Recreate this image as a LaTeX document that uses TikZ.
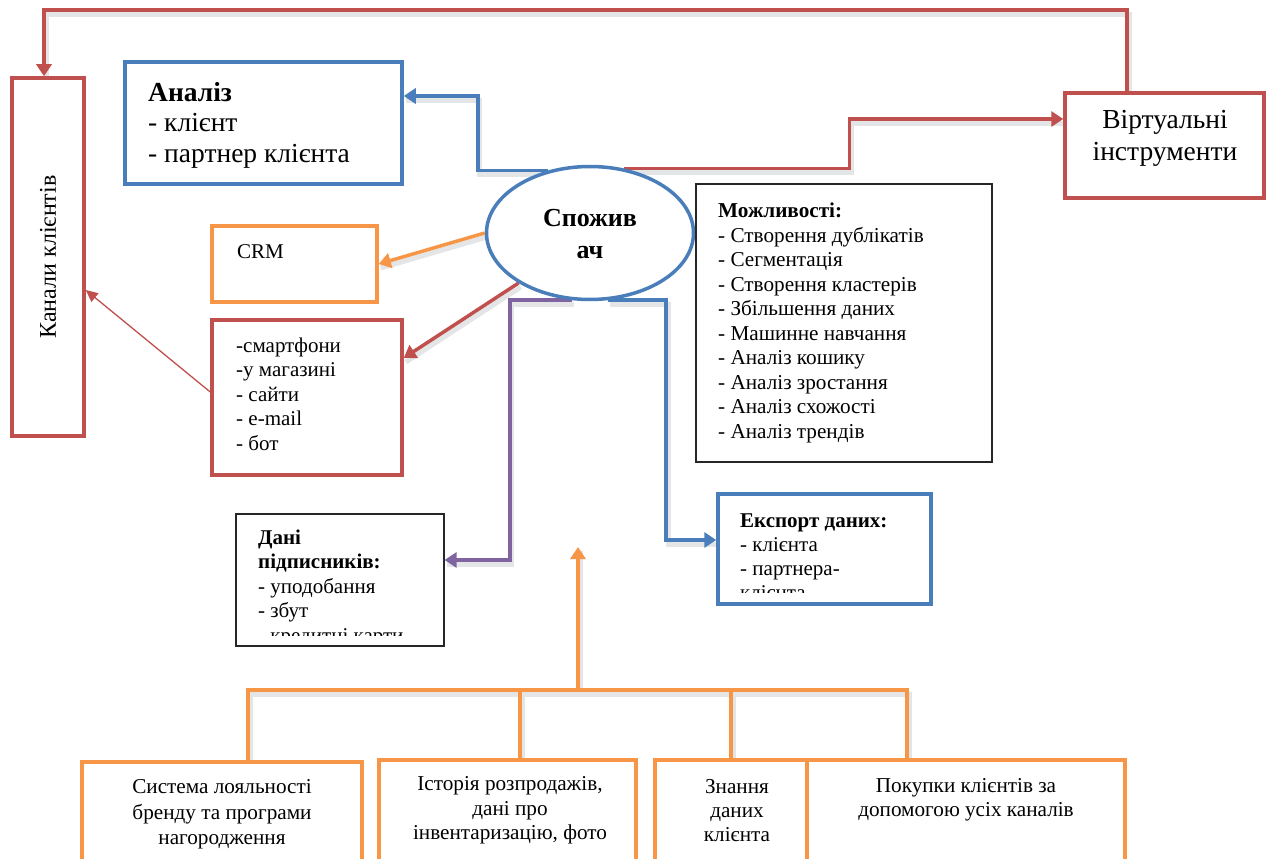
\documentclass[tikz,border=0pt]{standalone}
\usepackage{fontspec}
\setmainfont{Liberation Serif}
\usetikzlibrary{arrows.meta,shapes.geometric}
\definecolor{cred}{HTML}{C0504D}
\definecolor{cblue}{HTML}{4A7EBB}
\definecolor{corange}{HTML}{F79646}
\definecolor{cpurple}{HTML}{8064A2}
\definecolor{cshadow}{HTML}{E3E5E7}
\newcommand{\fs}[2]{\fontsize{#1}{#2}\selectfont}
\pgfdeclarelayer{back}
\pgfsetlayers{back,main}
\begin{document}
\begin{tikzpicture}[x=1pt,y=-1pt,
  box/.style={draw, fill=white, line width=3.5pt, rectangle, inner sep=0pt},
  redbox/.style={box, draw=cred},
  bluebox/.style={box, draw=cblue},
  orangebox/.style={box, draw=corange},
  thinbox/.style={draw=black!85, fill=white, line width=1.2pt, rectangle, inner sep=0pt},
  txt/.style={inner sep=0pt, anchor=north west, align=left},
  ctxt/.style={inner sep=0pt, anchor=north, align=center},
  shade/.style={preaction={draw=cshadow, line width=5pt, -, transform canvas={shift={(2pt,-4pt)}}}},
  conn/.style={shade, line width=3.5pt, -{Triangle[length=12pt,width=15pt]}},
  redline/.style={conn, draw=cred},
  blueline/.style={conn, draw=cblue},
  orangeline/.style={conn, draw=corange},
  purpleline/.style={conn, draw=cpurple},
  treeline/.style={shade, draw=corange, line width=3.5pt},
]
\clip (0,0) rectangle (1269,859);

% --- boxes ---
\node[redbox, minimum width=72pt, minimum height=358pt] (kan) at (48,257) {};
\node[rotate=90, inner sep=0pt, font=\fs{24}{28}] (kant) at (kan.center) {Канали клієнтів};

\node[bluebox, minimum width=277pt, minimum height=122pt] (anal) at (263.5,123) {};
\node[txt, font=\fs{27.5}{30.5}] (analt) at (148,82) {\textbf{Аналіз}\\- клієнт\\- партнер клієнта};

\node[redbox, minimum width=199pt, minimum height=105pt] (virt) at (1164.5,145.5) {};
\node[ctxt, font=\fs{27.5}{32}] (virtt) at (1165,110) {Віртуальні\\інструменти};

\node[draw=cblue, fill=white, line width=3.5pt, ellipse, minimum width=207pt, minimum height=133pt, inner sep=0pt] (ell) at (590,233) {};
\node[ctxt, font=\fs{26}{32}\bfseries] (ellt) at (590,209) {Спожив\\ач};

\node[orangebox, minimum width=165pt, minimum height=76pt] (crm) at (294.5,264) {};
\node[txt, font=\fs{21}{24}] (crmt) at (237,244.5) {CRM};

\node[redbox, minimum width=190pt, minimum height=155pt] (chan) at (307,397.5) {};
\node[txt, font=\fs{21}{24.5}] (chant) at (236,337.5) {-смартфони\\-у магазині\\- сайти\\- e-mail\\- бот};

\node[thinbox, minimum width=296pt, minimum height=278pt] (poss) at (844,323) {};
\node[txt, font=\fs{21.2}{24.5}] (posst) at (718,203) {\textbf{Можливості:}\\- Створення дублікатів\\- Сегментація\\- Створення кластерів\\- Збільшення даних\\- Машинне навчання\\- Аналіз кошику\\- Аналіз зростання\\- Аналіз схожості\\- Аналіз трендів};

\node[thinbox, minimum width=208pt, minimum height=132pt] (dani) at (340,580) {};
\begin{scope}
  \clip (237,515) rectangle (443,635);
  \node[txt, font=\fs{21}{24.5}] (danit) at (258,529.5) {\textbf{Дані}\\\textbf{підписників:}\\- уподобання\\- збут\\- кредитні карти};
\end{scope}

\node[bluebox, minimum width=213pt, minimum height=110pt] (exp) at (824.5,549) {};
\begin{scope}
  \clip (720,496) rectangle (929,592);
  \node[txt, font=\fs{21}{24}] (expt) at (740,513.5) {\textbf{Експорт даних:}\\- клієнта\\- партнера-\\клієнта};
\end{scope}

% --- bottom sources ---
\node[orangebox, minimum width=280pt, minimum height=118pt] (b1) at (222,821) {};
\node[ctxt, font=\fs{21.2}{25.5}] (b1t) at (222,779.5) {Система лояльності\\бренду та програми\\нагородження};
\node[orangebox, minimum width=257pt, minimum height=120pt] (b2) at (507.5,820) {};
\node[ctxt, font=\fs{21.2}{24.5}] (b2t) at (510,776.5) {Історія розпродажів,\\дані про\\інвентаризацію, фото};
\node[orangebox, minimum width=152pt, minimum height=120pt] (b3) at (731,820) {};
\node[ctxt, font=\fs{21.2}{24}] (b3t) at (737,779.5) {Знання\\даних\\клієнта};
\node[orangebox, minimum width=318pt, minimum height=120pt] (b4) at (966,820) {};
\node[ctxt, font=\fs{21.2}{24}] (b4t) at (966,778.5) {Покупки клієнтів за\\допомогою усіх каналів};

\coordinate (hub) at (578,690);
\coordinate (up) at (578,547);

% --- connectors, kept behind the boxes ---
\begin{pgfonlayer}{back}
\fill[white] (0,0) rectangle (1269,859);
\draw[redline] ([xshift=-37.5pt]virt.north) -- ++(0,-81) -| ([xshift=-4pt]kan.north);
\draw[redline] (ell.62) -- ++(225,0) |- ([yshift=26.5pt]virt.west);
\draw[blueline] (ell.124) -- ++(-70,0) |- ([yshift=27pt]anal.east);
\draw[orangeline] (ell.west) -- (crm.east);
\draw[redline] (ell.215) -- ([yshift=39.5pt]chan.east);
\draw[draw=cred, line width=1.3pt, -{Triangle[length=12pt,width=11pt]}] ([yshift=5.5pt]chan.west) -- ([yshift=-33pt]kan.east);
\draw[purpleline] (ell.255) -- ++(-62,0) |- ([yshift=20pt]dani.east);
\draw[blueline] (ell.285) -- ++(58,0) |- ([yshift=9pt]exp.west);

% sources feeding the customer
\draw[orangeline] (hub) -- (up);
\draw[treeline] ([xshift=26pt]b1.north) -- ([xshift=26pt]b1.north |- hub) -- ([xshift=-59pt]b4.north |- hub) -- ([xshift=-59pt]b4.north);
\draw[treeline] ([xshift=12.5pt]b2.north) -- ([xshift=12.5pt]b2.north |- hub);
\draw[treeline] (b3.north) -- (b3.north |- hub);
\end{pgfonlayer}
\end{tikzpicture}
\end{document}
